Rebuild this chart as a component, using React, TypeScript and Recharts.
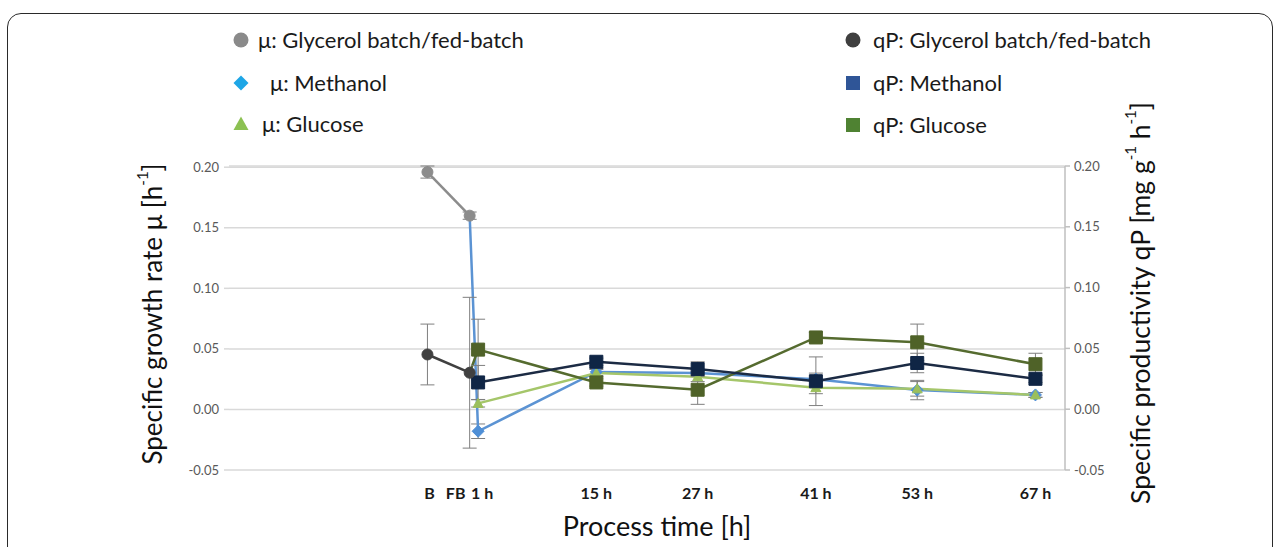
import React from 'react';
import { LineChart, Line, XAxis, YAxis, CartesianGrid, ErrorBar } from 'recharts';

// time points (h); B = batch end, FB = fed-batch end
const times = [-5, 0, 1, 15, 27, 41, 53, 67];
const timeLabels = ['B', 'FB', '1 h', '15 h', '27 h', '41 h', '53 h', '67 h'];
const yTicks = [-0.05, 0, 0.05, 0.1, 0.15, 0.2];

// specific growth rate mu [1/h]
const muGlycerol = [0.196, 0.16, null, null, null, null, null, null];
const muGlycerolErr = [0.005, 0.003, null, null, null, null, null, null];
const muMethanol = [null, 0.16, -0.018, 0.031, 0.03, 0.025, 0.016, 0.012];
const muMethanolErr = [null, 0, 0.006, 0.003, 0.003, 0.005, 0.008, 0.002];
const muGlucose = [null, null, 0.005, 0.03, 0.027, 0.018, 0.017, 0.012];
const muGlucoseErr = [null, null, 0.003, 0.003, 0.004, 0.005, 0.006, 0.002];

// specific productivity qP [mg/g/h]
const qpGlycerol = [0.045, 0.03, null, null, null, null, null, null];
const qpGlycerolErr = [0.025, 0.062, null, null, null, null, null, null];
const qpMethanol = [null, 0.03, 0.022, 0.039, 0.033, 0.023, 0.038, 0.025];
const qpMethanolErr = [null, 0, 0.014, 0.003, 0.006, 0.02, 0.008, 0.003];
const qpGlucose = [null, 0.03, 0.049, 0.022, 0.016, 0.059, 0.055, 0.037];
const qpGlucoseErr = [null, 0, 0.025, 0.003, 0.012, 0.004, 0.015, 0.009];

const toPoints = (vals: (number | null)[], errs: (number | null)[]) =>
  times
    .map((t, i) => ({ t, v: vals[i], e: errs[i] ?? 0 }))
    .filter((p) => p.v !== null);

const FONT = 'Lato, "Open Sans", sans-serif';

const markerPath = (shape: string, cx: number, cy: number, s: number) => {
  if (shape === 'diamond') return `M${cx},${cy - s} L${cx + s},${cy} L${cx},${cy + s} L${cx - s},${cy} Z`;
  if (shape === 'triangle') return `M${cx},${cy - s} L${cx + s},${cy + s * 0.8} L${cx - s},${cy + s * 0.8} Z`;
  return `M${cx - s},${cy - s} h${2 * s} v${2 * s} h${-2 * s} Z`;
};

// dots are hidden at FB for lines that only start from the glycerol point
const makeDot = (shape: string, fill: string, size: number, hideFB: boolean) => (props: any) => {
  const { cx, cy, payload, index } = props;
  if (cx == null || cy == null) return <g key={index} />;
  if (hideFB && payload.t === 0) return <g key={index} />;
  if (shape === 'circle') return <circle key={index} cx={cx} cy={cy} r={size} fill={fill} stroke={fill} strokeWidth={1} />;
  return <path key={index} d={markerPath(shape, cx, cy, size)} fill={fill} stroke={fill} strokeWidth={1} />;
};

const XTick = (props: any) => {
  const { x, y, payload } = props;
  const i = times.indexOf(payload.value);
  const shift: Record<number, number> = { [-5]: 2, 0: -14, 1: 4 };
  return (
    <text x={x + (shift[payload.value] ?? 0)} y={y + 21} textAnchor="middle" fontFamily={FONT} fontWeight="bold" fontSize={16} fill="#1a1a1a">
      {timeLabels[i]}
    </text>
  );
};

const LeftTitle = (props: any) => {
  const { viewBox } = props;
  const cx = viewBox.x - 17;
  const cy = 314;
  return (
    <text x={cx} y={cy} transform={`rotate(-90 ${cx} ${cy})`} textAnchor="middle" dominantBaseline="central" fontFamily={FONT} fontSize={26} fill="#111">
      Specific growth rate μ [h<tspan fontSize={15} dy={-10}>-1</tspan><tspan dy={10}>]</tspan>
    </text>
  );
};

const RightTitle = (props: any) => {
  const { viewBox } = props;
  const cx = viewBox.x + 75;
  const cy = 303;
  return (
    <text x={cx} y={cy} transform={`rotate(-90 ${cx} ${cy})`} textAnchor="middle" dominantBaseline="central" fontFamily={FONT} fontSize={26.5} fill="#111">
      Specific productivity qP [mg g<tspan fontSize={15} dy={-10}>-1</tspan><tspan dy={10}> h</tspan>
      <tspan fontSize={15} dy={-10}>-1</tspan><tspan dy={10}>]</tspan>
    </text>
  );
};

const XTitle = (props: any) => {
  const { viewBox } = props;
  return (
    <text x={657} y={viewBox.y + 66} textAnchor="middle" fontFamily={FONT} fontSize={27} fill="#111">
      Process time [h]
    </text>
  );
};

const legendLeft = [
  { label: 'μ: Glycerol batch/fed-batch', shape: 'circle', color: '#8a8a8a', y: 40, tx: 258 },
  { label: 'μ: Methanol', shape: 'diamond', color: '#1ea6e6', y: 83, tx: 270 },
  { label: 'μ: Glucose', shape: 'triangle', color: '#8cc152', y: 124, tx: 262 },
];
const legendRight = [
  { label: 'qP: Glycerol batch/fed-batch', shape: 'circle', color: '#3f3f3f', y: 40, tx: 873 },
  { label: 'qP: Methanol', shape: 'square', color: '#2f5597', y: 83, tx: 873 },
  { label: 'qP: Glucose', shape: 'square', color: '#4f8232', y: 125, tx: 873 },
];

const LegendIcon = ({ shape, color }: { shape: string; color: string }) => (
  <svg width={18} height={18} style={{ display: 'block' }}>
    {shape === 'circle' ? <circle cx={9} cy={9} r={7.5} fill={color} /> : <path d={markerPath(shape, 9, 9, shape === 'square' ? 7 : 7.5)} fill={color} />}
  </svg>
);

const App = () => {
  const legendItems = [...legendLeft.map((d) => ({ ...d, ix: 241 })), ...legendRight.map((d) => ({ ...d, ix: 853 }))];
  return (
    <div style={{ position: 'fixed', left: 0, top: 0, width: 1282, height: 547, background: '#fff', overflow: 'hidden' }}>
      <div style={{ position: 'absolute', left: 7, top: 13, width: 1264, height: 600, border: '1.5px solid #2a2a2a', borderRadius: 14 }} />
      {legendItems.map((d) => (
        <React.Fragment key={d.label}>
          <div style={{ position: 'absolute', left: d.ix - 9, top: d.y - 9 }}>
            <LegendIcon shape={d.shape} color={d.color} />
          </div>
          <div style={{ position: 'absolute', left: d.tx, top: d.y - 14, fontFamily: FONT, fontSize: 22, lineHeight: '28px', color: '#1a1a1a', whiteSpace: 'nowrap' }}>
            {d.label}
          </div>
        </React.Fragment>
      ))}
      <div style={{ position: 'absolute', left: 0, top: 0 }}>
        <LineChart width={1282} height={547} margin={{ top: 166, right: 157, bottom: 47, left: 169 }}>
          <CartesianGrid vertical={false} stroke="#d9d9d9" strokeWidth={1.5} yAxisId="left" />
          <XAxis
            dataKey="t"
            type="number"
            domain={[-28.5, 70.5]}
            ticks={times}
            interval={0}
            axisLine={false}
            tickLine={false}
            height={30}
            tick={<XTick />}
            label={<XTitle />}
            allowDuplicatedCategory={false}
          />
          <YAxis
            yAxisId="left"
            domain={[-0.05, 0.2]}
            ticks={yTicks}
            width={60}
            axisLine={false}
            tickLine={{ stroke: '#d9d9d9', strokeWidth: 1.5 }}
            tickSize={5}
            tickMargin={5}
            tickFormatter={(v: number) => v.toFixed(2)}
            tick={{ fontFamily: FONT, fontSize: 13, fill: '#595959' }}
            label={<LeftTitle />}
          />
          <YAxis
            yAxisId="right"
            orientation="right"
            domain={[-0.05, 0.2]}
            ticks={yTicks}
            width={60}
            axisLine={{ stroke: '#bfbfbf', strokeWidth: 1.5 }}
            tickLine={{ stroke: '#bfbfbf', strokeWidth: 1.5 }}
            tickSize={5}
            tickMargin={4}
            tickFormatter={(v: number) => v.toFixed(2)}
            tick={{ fontFamily: FONT, fontSize: 13, fill: '#595959' }}
            label={<RightTitle />}
          />
          <Line yAxisId="left" data={toPoints(muMethanol, muMethanolErr)} dataKey="v" stroke="#5b93d3" strokeWidth={2.5} dot={makeDot('diamond', '#4f8fd6', 6, true)} isAnimationActive={false}>
            <ErrorBar dataKey="e" direction="y" width={7} stroke="#7f7f7f" strokeWidth={1} />
          </Line>
          <Line yAxisId="left" data={toPoints(muGlucose, muGlucoseErr)} dataKey="v" stroke="#a5c66a" strokeWidth={2.5} dot={makeDot('triangle', '#9bbf5c', 5, true)} isAnimationActive={false}>
            <ErrorBar dataKey="e" direction="y" width={7} stroke="#7f7f7f" strokeWidth={1} />
          </Line>
          <Line yAxisId="right" data={toPoints(qpGlucose, qpGlucoseErr)} dataKey="v" stroke="#556b2f" strokeWidth={2.5} dot={makeDot('square', '#4f6228', 6.5, true)} isAnimationActive={false}>
            <ErrorBar dataKey="e" direction="y" width={7} stroke="#7f7f7f" strokeWidth={1} />
          </Line>
          <Line yAxisId="right" data={toPoints(qpMethanol, qpMethanolErr)} dataKey="v" stroke="#1c2b44" strokeWidth={2.5} dot={makeDot('square', '#0f2545', 6.5, true)} isAnimationActive={false}>
            <ErrorBar dataKey="e" direction="y" width={7} stroke="#7f7f7f" strokeWidth={1} />
          </Line>
          <Line yAxisId="left" data={toPoints(muGlycerol, muGlycerolErr)} dataKey="v" stroke="#8c8c8c" strokeWidth={2.5} dot={makeDot('circle', '#8c8c8c', 5.5, false)} isAnimationActive={false}>
            <ErrorBar dataKey="e" direction="y" width={7} stroke="#7f7f7f" strokeWidth={1} />
          </Line>
          <Line yAxisId="right" data={toPoints(qpGlycerol, qpGlycerolErr)} dataKey="v" stroke="#404040" strokeWidth={2.5} dot={makeDot('circle', '#404040', 5.5, false)} isAnimationActive={false}>
            <ErrorBar dataKey="e" direction="y" width={7} stroke="#7f7f7f" strokeWidth={1} />
          </Line>
        </LineChart>
      </div>
    </div>
  );
};

export default App;
